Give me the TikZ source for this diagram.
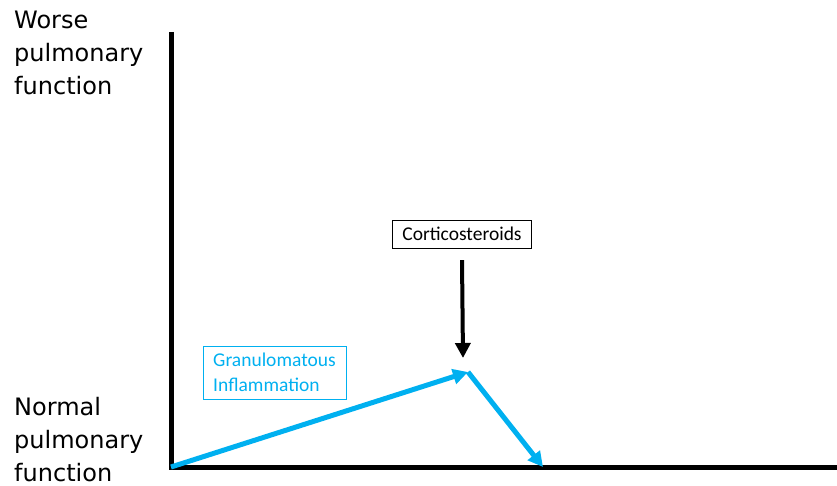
\documentclass[tikz,border=0pt]{standalone}
\usepackage{fontspec}
\setmainfont{DejaVu Sans}
\newfontfamily\boxfont{Carlito}
\usetikzlibrary{arrows.meta,positioning}
\tikzset{>=latex}
\definecolor{g-color}{HTML}{00B0F0}

\begin{document}
\begin{tikzpicture}[x=1pt, y=-1pt,
                >={Triangle[length=15pt, width=15pt]},
                every node/.append style={align=left},
                lab/.style={font=\fontsize{24}{33}\selectfont, anchor=north west, inner sep=0pt},
                box/.style={draw, font=\boxfont\fontsize{19.5}{25}\selectfont, inner xsep=10pt, inner ysep=7pt},
                axis/.style={line width=5pt, line join=miter},
                course/.style={->, line width=5pt, draw=g-color}]
               \useasboundingbox (0,0) rectangle (837,486);

               \coordinate (O)   at (171,467);
               \coordinate (top) at (171,32);
               \coordinate (end) at (837,467);
               \coordinate (P)   at (468,372);
               \coordinate (Q)   at (543,467);

               \node [lab] (worse)  at (14,11)  {Worse\\pulmonary\\function};
               \node [lab] (normal) at (14,397) {Normal\\pulmonary\\function};

               \node [box] (cort) at (462,234) {Corticosteroids};
               \node [box, draw=g-color, text=g-color] (gran) at (274.5,372.5) {Granulomatous\\Inflammation};
               \coordinate (dose) at (463,358);

               \draw [axis] (top) -- (O) -- (end);
               \draw [course] (O) -- (P);
               \draw [course] (P) -- (Q);
               \draw [->, line width=4pt] ([yshift=-12pt]cort.south) -- (dose);
        \end{tikzpicture}
\end{document}
